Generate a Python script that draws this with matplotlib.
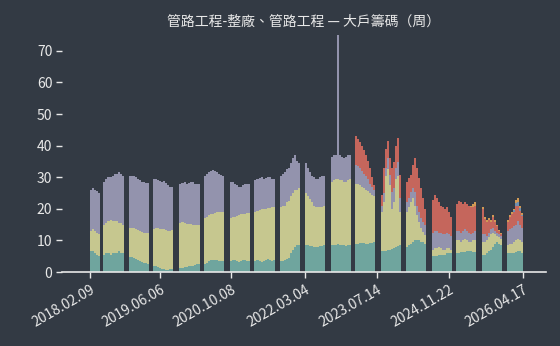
import numpy as np
import pandas as pd
import matplotlib
matplotlib.use("Agg")
import matplotlib.pyplot as plt

plt.rcParams['font.family'] = ['Noto Sans CJK TC', 'DejaVu Sans']

# datos semanales (cada barra = 2 semanas), agrupados por tramos con huecos
start = pd.Timestamp('2018-02-09')
group_weeks = [0, 13, 38, 62, 88, 112, 138, 162, 187, 212, 237, 261, 287, 311, 337, 361, 386, 411]

teal_top = [
    [6.5, 6.5, 6, 5.5, 5],
    [5.5, 6, 6, 5.5, 6, 6, 6, 6.5, 6, 6],
    [4.8, 4.6, 4.3, 4, 3.8, 3.5, 3.2, 3, 2.8, 2.5],
    [2, 1.8, 1.5, 1.2, 1, 0.8, 0.7, 0.7, 0.8, 1],
    [1.2, 1.3, 1.5, 1.5, 1.8, 2, 2, 2.2, 2.5, 2.5],
    [2.5, 3, 3.5, 3.7, 3.8, 3.8, 3.7, 3.6, 3.5, 3.5],
    [3.5, 3.7, 3.8, 3.5, 3.3, 3.5, 3.8, 3.7, 3.6, 3.6],
    [3.5, 3.7, 3.5, 3.3, 3.5, 3.8, 4, 3.7, 3.5, 3.8],
    [3.5, 3.5, 3.8, 4, 4.5, 6, 7, 8, 8.5, 8.5],
    [8.5, 8.5, 8.3, 8.2, 8, 8, 8, 8.2, 8.3, 8.5],
    [8.5, 8.5, 8.7, 8.8, 8.7, 8.5, 8.5, 8.3, 8.5, 8.7],
    [9, 9, 9.2, 9.3, 9.2, 9, 9, 9.2, 9.3, 9.5],
    [6.5, 6.5, 6.8, 7, 7, 7.2, 7.5, 8, 8.3, 8.5],
    [8, 8.5, 9, 9.5, 10, 10, 10, 9.5, 9.5, 9],
    [5, 5, 5, 5.5, 5.5, 5.5, 5.5, 6, 6, 6],
    [6, 6, 6.2, 6.3, 6.3, 6.5, 6.5, 6.5, 6.3, 6.3],
    [5.5, 5.5, 6, 6.5, 7, 8, 9, 9.5, 9, 8.5],
    [6, 6, 6, 6, 6.3, 6.5, 6.5, 6],
]

yellow_top = [
    [13, 13.5, 13, 12.5, 12],
    [15, 15.5, 16, 16.5, 16, 16, 16, 15.5, 15.5, 15],
    [14, 14, 13.8, 13.5, 13.2, 13, 12.8, 12.5, 12.3, 12.3],
    [13.5, 13.8, 14, 13.5, 13.5, 13.5, 13.2, 13, 13, 13.2],
    [15.5, 15.8, 15.5, 15.2, 15.3, 15.2, 15, 15, 15, 15],
    [17, 17.5, 18, 18.3, 18.5, 18.8, 19, 19, 19, 19],
    [17, 17.3, 17.5, 17.8, 18, 18.2, 18.3, 18.5, 18.6, 18.7],
    [19, 19.3, 19.5, 19.8, 20, 20, 20.2, 20.3, 20.5, 20.5],
    [20.5, 21, 21, 22, 22.5, 24, 25, 26, 26, 26.5],
    [25, 24, 23, 22, 21, 20.5, 20.5, 20.5, 20.5, 21],
    [28.5, 29, 29.5, 29.5, 29, 29, 28.5, 28.5, 29, 29.5],
    [28, 28, 27.5, 27, 26.5, 26, 25.5, 25, 24.5, 24],
    [19, 22, 30.5, 32.5, 27.5, 20, 22, 29.5, 30.5, 19],
    [19, 20.5, 22, 23.3, 21, 18, 15.8, 13.9, 12.6, 11.7],
    [7, 7.5, 7.5, 7.8, 7.5, 7, 7, 7.5, 7.5, 7],
    [10, 10, 9.5, 10, 10.5, 10, 9.5, 9.5, 10, 10],
    [9.5, 9.5, 10, 11, 12, 12.5, 12, 11.5, 11, 10.5],
    [8.5, 9, 9, 9.5, 10, 10.5, 10, 9.5],
]

purple_top = [
    [26, 26.5, 26, 25.5, 25],
    [28.5, 29.5, 30, 30, 30.5, 31, 31, 31.5, 31, 30.5],
    [30.5, 30.5, 30.3, 30, 29.5, 29, 28.5, 28.5, 28.3, 28.3],
    [29.5, 29.5, 29, 28.7, 28.5, 28.7, 28.2, 27.5, 27, 27],
    [28, 28.2, 28.5, 28, 28.3, 28.5, 28.5, 28, 28, 28],
    [30.5, 31, 31.5, 32, 32.3, 32, 31.5, 31, 30.8, 30.5],
    [28.5, 28.5, 28, 27.5, 27, 27, 27.5, 27.8, 28, 28],
    [29, 29.5, 29.8, 30, 29.5, 29.8, 30, 30, 29.5, 29.5],
    [30.5, 31, 31.5, 32.5, 33, 34.5, 36, 37, 35, 34.5],
    [34.5, 33, 31.5, 30.5, 30, 29.5, 29.5, 30, 30.5, 30.5],
    [36.5, 37, 37, 75, 37, 36.5, 36, 36.5, 37, 37],
    [34, 33.5, 33, 32, 31, 30.5, 29.5, 28, 27, 26],
    [21, 25, 32.8, 36, 30.6, 25.2, 26.5, 32.8, 34.7, 23.3],
    [22, 23.3, 25.2, 26.5, 25.2, 21, 19, 17, 15.8, 14.8],
    [12.5, 13, 13, 12.5, 12.3, 12, 12, 12.5, 12, 11.5],
    [13, 13, 12.5, 13, 13.5, 13, 12.5, 12, 12.5, 13],
    [12, 12, 11.5, 12.5, 13.5, 14, 13, 12.5, 12, 11.5],
    [13, 13.5, 14, 14.5, 15, 16, 15, 14],
]

# la capa roja empieza en el tramo 12
red_from = 11
red_top = [
    [43, 42, 41, 40, 38.5, 37, 35, 33, 30, 27.5],
    [24.3, 32.8, 39, 41.6, 36, 32.8, 34.7, 40, 42.3, 30.6],
    [28.4, 29.6, 30.6, 33.8, 36, 32.8, 29.6, 26.5, 23.3, 20],
    [22.7, 24.3, 23.3, 22, 21, 20.5, 20, 20.5, 19, 17.4],
    [21.5, 22.5, 22, 21.5, 22, 21.5, 21, 20.5, 20.7, 21],
    [20, 16.9, 15.9, 16.5, 15.9, 17.5, 15.9, 14.5, 12.9, 12],
    [15.9, 17.5, 18.5, 19, 20.9, 20.8, 19.2, 17.6],
]

# capas chicas arriba en los ultimos tramos
extra_from = 15
blue_extra = [
    [0, 0, 0, 0, 0, 0, 0, 0, 0, 0],
    [0, 0, 0, 0, 0, 0, 0, 0, 0, 0],
    [0, 0, 0, 0.5, 1, 1.5, 1, 0.5],
]
orange_extra = [
    [0, 0, 0, 0, 0, 0, 0, 0.5, 0.8, 1],
    [0.5, 0.5, 0.5, 0.5, 0.5, 0.5, 0.5, 0.3, 0.3, 0.3],
    [0.5, 0.5, 0.5, 0.5, 0.8, 1, 0.8, 0.5],
]

tick_labels = ['2018.02.09', '2019.06.06', '2020.10.08', '2022.03.04',
               '2023.07.14', '2024.11.22', '2026.04.17']
y_ticks = [0, 10, 20, 30, 40, 50, 60, 70]

bg = '#333a44'
fg = '#e8e8e8'
c_teal = '#6fa59e'
c_yellow = '#c6c78f'
c_purple = '#9393ad'
c_red = '#c5665c'
c_blue = '#6f8fb0'
c_orange = '#d09a55'

fig = plt.figure(figsize=(5.6, 3.46), dpi=100, facecolor=bg)
ax = fig.add_axes([62 / 560, 1 - 272 / 346, (546 - 62) / 560, (272 - 35) / 346])
ax.set_facecolor(bg)

def capa(x, bottom, top, color):
    bottom = np.asarray(bottom, dtype=float)
    top = np.asarray(top, dtype=float)
    ax.bar(x, top - bottom, bottom=bottom, width=14, align='edge', color=color, linewidth=0)

for g, wk in enumerate(group_weeks):
    n = len(teal_top[g])
    x = pd.date_range(start + pd.Timedelta(weeks=wk), periods=n, freq='14D')
    capa(x, np.zeros(n), teal_top[g], c_teal)
    capa(x, teal_top[g], yellow_top[g], c_yellow)
    capa(x, yellow_top[g], purple_top[g], c_purple)
    if g >= red_from:
        capa(x, purple_top[g], red_top[g - red_from], c_red)
    if g >= extra_from:
        base = np.array(red_top[g - red_from])
        b = np.array(blue_extra[g - extra_from])
        o = np.array(orange_extra[g - extra_from])
        capa(x, base, base + b, c_blue)
        capa(x, base + b, base + b + o, c_orange)

ax.set_xlim(pd.Timestamp('2017-07-29'), pd.Timestamp('2026-09-22'))
ax.set_ylim(0, 75)

ax.set_xticks(pd.to_datetime(tick_labels, format='%Y.%m.%d'))
ax.set_xticklabels(tick_labels, rotation=30, ha='right', rotation_mode='anchor')
ax.set_yticks(y_ticks)

for s in ['top', 'right', 'left']:
    ax.spines[s].set_visible(False)
ax.spines['bottom'].set_color(fg)
ax.spines['bottom'].set_linewidth(1.2)
ax.tick_params(axis='x', colors=fg, labelsize=10, length=4, width=1)
ax.tick_params(axis='y', colors=fg, labelsize=10, length=4, width=1, pad=3)

ax.set_title('管路工程-整廠、管路工程 — 大戶籌碼（周）', color=fg, fontsize=10, pad=7)

fig.savefig('out.png', dpi=100, facecolor=bg)
